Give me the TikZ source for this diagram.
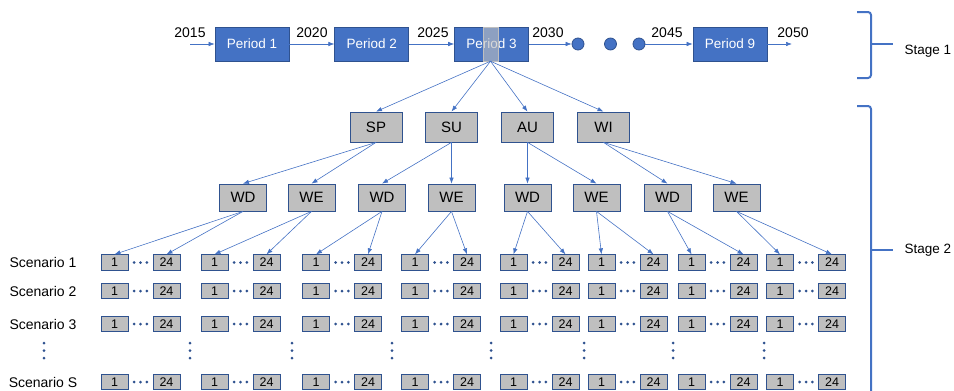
\documentclass[tikz,border=0pt]{standalone}
\usepackage{fontspec}
\setmainfont{Liberation Sans}
\usetikzlibrary{positioning, arrows.meta, calc}
\definecolor{ofblue}{HTML}{4472C4}
\definecolor{ofdark}{HTML}{2F528F}
\definecolor{ofgray}{HTML}{BFBFBF}

\begin{document}
\begin{tikzpicture}[x=1pt, y=-1pt, node distance=45pt, >={Latex[length=6pt, width=4.5pt]},
	per/.style={draw=ofdark, fill=ofblue, text=white, line width=0.8pt, minimum width=74pt, minimum height=34pt, inner sep=0pt, font=\fontsize{13.5}{16}\selectfont},
	box/.style={draw=ofdark, fill=ofgray, line width=0.8pt, inner sep=0pt, font=\fontsize{15}{18}\selectfont},
	sea/.style={box, minimum width=52pt, minimum height=30pt},
	day/.style={box, minimum width=47pt, minimum height=27pt},
	hr/.style={box, minimum width=27pt, minimum height=15.5pt, font=\fontsize{12.5}{14}\selectfont},
	yr/.style={font=\fontsize{14}{17}\selectfont},
	ball/.style={circle, draw=ofdark, fill=ofblue, line width=0.8pt, minimum size=12pt, inner sep=0pt},
	lnk/.style={->, ofblue, line width=0.6pt},
	brc/.style={ofblue, line width=2pt, rounded corners=3pt}]
	\useasboundingbox (0,0) rectangle (954,391);
	% stage 1: periods
	\node[per] (P1) at (252,44) {Period 1};
	\node[per] (P2) [right=of P1] {Period 2};
	\node[per] (P3) [right=of P2] {Period 3};
	\node[fill=ofgray, fill opacity=0.6, draw=ofgray, minimum width=15pt, minimum height=34pt, inner sep=0pt] (P3s) at (490.5,44) {};
	\node[ball] (C1) at (578,44) {}; \node[ball] (C2) at (610.5,44) {}; \node[ball] (C3) at (639,44) {};
	\node[per] (P9) at (730,44) {Period 9};
	\coordinate (S0) at (190,44); \coordinate (E9) at (792,44);
	\draw[lnk] (S0) -- (P1); \draw[lnk] (P1) -- (P2); \draw[lnk] (P2) -- (P3);
	\draw[lnk] (P3) -- (C1); \draw[lnk] (C3) -- (P9); \draw[lnk] (P9) -- (E9);
	\foreach \yy/\x in {2015/190, 2020/312, 2025/433, 2030/548, 2045/667, 2050/793}
		\node[yr, anchor=base] (y\yy) at (\x,37) {\yy};
	% stage 2: seasons and days
	\foreach \s/\x in {SP/376, SU/451.5, AU/527.5, WI/603.5} {
		\node[sea] (\s) at (\x,127) {\s};
		\draw[lnk] (P3s.south) -- (\s.north);
	}
	\foreach \d/\t/\x/\s in {1/WD/243/SP, 2/WE/311.5/SP, 3/WD/382/SU, 4/WE/451.5/SU, 5/WD/527.5/AU, 6/WE/596.5/AU, 7/WD/667.5/WI, 8/WE/736.5/WI} {
		\node[day] (D\d) at (\x,197.5) {\t};
		\draw[lnk] (\s.south) -- (D\d.north);
	}
	% hours per scenario
	\foreach \g/\x in {1/114.5, 2/214.5, 3/316, 4/415, 5/513.5, 6/601.5, 7/691.5, 8/780} {
		\foreach \r/\y in {1/262.5, 2/291, 3/324, S/382} {
			\node[hr] (a\g\r) at (\x,\y) {1};
			\node[hr] (b\g\r) at (\x+52,\y) {24};
			\foreach \k in {-6.3, 0, 6.3} \fill[ofdark] (\x+26+\k,\y) circle (1.5);
		}
		\draw[lnk] (D\g.south) -- (a\g1.north);
		\draw[lnk] (D\g.south) -- (b\g1.north);
	}
	\foreach \x in {44, 190, 292, 392, 491, 584, 673, 764}
		\foreach \y in {343, 350.5, 358} \fill[ofdark] (\x,\y) circle (1.5);
	\foreach \r/\y in {1/262.5, 2/291, 3/324, S/382}
		\node[yr] (sc\r) at (43,\y) {Scenario \r};
	% stage braces
	\draw[brc] (857,12) -- (871,12) -- (871,78) -- (857,78);
	\draw[ofblue, line width=2pt] (871,43.5) -- (893,43.5);
	\node[yr, anchor=base west, font=\fontsize{13.5}{16}\selectfont] (st1) at (901,54) {Stage 1};
	\draw[brc] (857,106) -- (871,106) -- (871,395);
	\draw[ofblue, line width=2pt] (871,249.5) -- (893,249.5);
	\node[yr, anchor=base west, font=\fontsize{13.5}{16}\selectfont] (st2) at (901,253.5) {Stage 2};
\end{tikzpicture}
\end{document}
